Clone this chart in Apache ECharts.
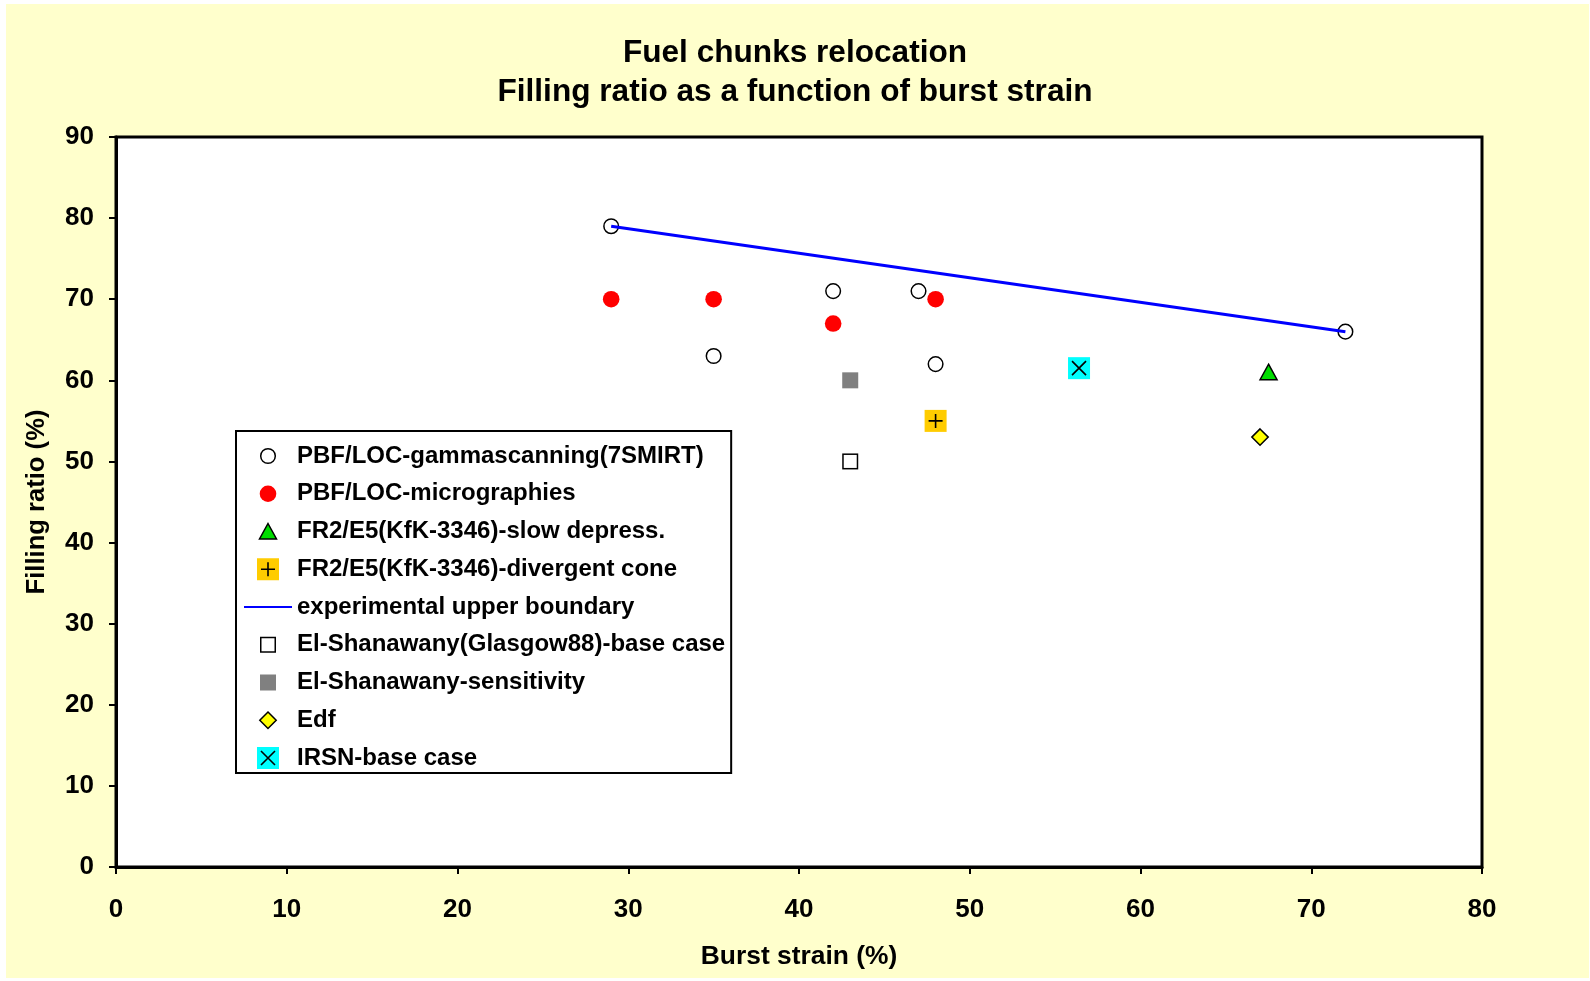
<!DOCTYPE html>
<html>
<head>
<meta charset="utf-8">
<style>
html,body{margin:0;padding:0;background:#ffffff;}
#chart{width:1590px;height:981px;}
</style>
<script src="https://cdn.jsdelivr.net/npm/echarts@6/dist/echarts.min.js"></script>
</head>
<body>
<div id="chart"></div>
<script>
// ---- data ----
var seriesNames = [
  'PBF/LOC-gammascanning(7SMIRT)',
  'PBF/LOC-micrographies',
  'FR2/E5(KfK-3346)-slow depress.',
  'FR2/E5(KfK-3346)-divergent cone',
  'experimental upper boundary',
  'El-Shanawany(Glasgow88)-base case',
  'El-Shanawany-sensitivity',
  'Edf',
  'IRSN-base case'
];
var gammaScanning = [[29, 79], [35, 63], [42, 71], [47, 71], [48, 62], [72, 66]];
var micrographies = [[29, 70], [35, 70], [42, 67], [48, 70]];
var slowDepress = [[67.5, 61]];
var divergentCone = [[48, 55]];
var upperBoundary = [[29, 79], [72, 66]];
var elShanBase = [[43, 50]];
var elShanSens = [[43, 60]];
var edf = [[67, 53]];
var irsnBase = [[56.4, 61.5]];
var xTicks = [0, 10, 20, 30, 40, 50, 60, 70, 80];
var yTicks = [0, 10, 20, 30, 40, 50, 60, 70, 80, 90];

// ---- marker images (24x24 boxes) ----
function svgSym(inner) {
  var s = '<svg xmlns="http://www.w3.org/2000/svg" width="24" height="24" viewBox="0 0 24 24">' + inner + '</svg>';
  return 'image://data:image/svg+xml;charset=utf-8,' + encodeURIComponent(s);
}
var SYM = {
  openCircle: svgSym('<circle cx="12" cy="12" r="7.3" fill="#ffffff" stroke="#000000" stroke-width="1.5"/>'),
  redCircle: svgSym('<circle cx="12" cy="12" r="8.3" fill="#ff0000"/>'),
  triangle: svgSym('<polygon points="12,4 20.5,19.5 3.5,19.5" fill="#00dd00" stroke="#000000" stroke-width="1.5" stroke-linejoin="miter"/>'),
  plusBox: svgSym('<rect x="1" y="1" width="22" height="22" fill="#ffcc00"/><path d="M12 5 V19 M5 12 H19" stroke="#000000" stroke-width="1.6"/>'),
  openSquare: svgSym('<rect x="4.75" y="4.75" width="14.5" height="14.5" fill="#ffffff" stroke="#000000" stroke-width="1.5"/>'),
  greySquare: svgSym('<rect x="4" y="4" width="16" height="16" fill="#808080"/>'),
  diamond: svgSym('<polygon points="12,3.8 20.2,12 12,20.2 3.8,12" fill="#ffff00" stroke="#000000" stroke-width="1.5"/>'),
  xBox: svgSym('<rect x="1" y="1" width="22" height="22" fill="#00ffff"/><path d="M5 5 L19 19 M19 5 L5 19" stroke="#000000" stroke-width="1.6"/>'),
  blank: svgSym('')
};

var FONT = 'Liberation Sans, Arial, sans-serif';

function scat(name, data, sym) {
  return {
    name: name, type: 'scatter', data: data,
    symbol: sym, symbolSize: 24,
    itemStyle: { opacity: 1 },
    emphasis: { disabled: true },
    z: 3
  };
}

var chart = echarts.init(document.getElementById('chart'), null, { renderer: 'canvas' });
var option = {
  animation: false,
  backgroundColor: '#ffffff',
  graphic: [{
    type: 'rect', left: 6, top: 4, z: -10,
    shape: { width: 1583, height: 974 },
    style: { fill: '#ffffcc' }
  }],
  title: {
    text: 'Fuel chunks relocation\nFilling ratio as a function of burst strain',
    left: 'center', top: 34, padding: [0, 0, 0, 4],
    textStyle: { fontFamily: FONT, fontSize: 31.6, fontWeight: 'bold', color: '#000', lineHeight: 39 }
  },
  grid: {
    left: 116, top: 137, right: 108, bottom: 114,
    show: true, backgroundColor: '#ffffff', borderColor: '#000000', borderWidth: 3,
    containLabel: false
  },
  legend: {
    orient: 'vertical', left: 236, top: 431,
    padding: [13, 6, 3, 7],
    itemWidth: 48, itemHeight: 24, itemGap: 13.75,
    backgroundColor: '#ffffff', borderColor: '#000000', borderWidth: 2,
    selectedMode: false,
    textStyle: { fontFamily: FONT, fontSize: 24, fontWeight: 'bold', color: '#000' },
    data: seriesNames
  },
  xAxis: {
    type: 'value', min: 0, max: 80, interval: 10,
    name: 'Burst strain (%)', nameLocation: 'middle', nameGap: 77,
    nameTextStyle: { fontFamily: FONT, fontSize: 26.4, fontWeight: 'bold', color: '#000' },
    axisLine: { show: true, onZero: false, lineStyle: { color: '#000', width: 3 } },
    axisTick: { show: true, inside: false, length: 7, lineStyle: { color: '#000', width: 2 } },
    axisLabel: { margin: 30, fontFamily: FONT, fontSize: 26, fontWeight: 'bold', color: '#000',
      formatter: function (v) { return xTicks.indexOf(v) >= 0 ? String(v) : ''; } },
    splitLine: { show: false }
  },
  yAxis: {
    type: 'value', min: 0, max: 90, interval: 10,
    name: 'Filling ratio (%)', nameLocation: 'middle', nameGap: 66,
    nameTextStyle: { fontFamily: FONT, fontSize: 25.6, fontWeight: 'bold', color: '#000' },
    axisLine: { show: true, onZero: false, lineStyle: { color: '#000', width: 3 } },
    axisTick: { show: true, inside: false, length: 7, lineStyle: { color: '#000', width: 2 } },
    axisLabel: { margin: 22, fontFamily: FONT, fontSize: 26, fontWeight: 'bold', color: '#000',
      formatter: function (v) { return yTicks.indexOf(v) >= 0 ? String(v) : ''; } },
    splitLine: { show: false }
  },
  series: [
    scat(seriesNames[0], gammaScanning, SYM.openCircle),
    scat(seriesNames[1], micrographies, SYM.redCircle),
    scat(seriesNames[2], slowDepress, SYM.triangle),
    scat(seriesNames[3], divergentCone, SYM.plusBox),
    {
      name: seriesNames[4], type: 'line', data: upperBoundary,
      symbol: SYM.blank, showSymbol: false,
      lineStyle: { color: '#0000ff', width: 3 },
      itemStyle: { color: '#0000ff' },
      emphasis: { disabled: true },
      z: 4
    },
    scat(seriesNames[5], elShanBase, SYM.openSquare),
    scat(seriesNames[6], elShanSens, SYM.greySquare),
    scat(seriesNames[7], edf, SYM.diamond),
    scat(seriesNames[8], irsnBase, SYM.xBox)
  ]
};
chart.setOption(option);
</script>
</body>
</html>
